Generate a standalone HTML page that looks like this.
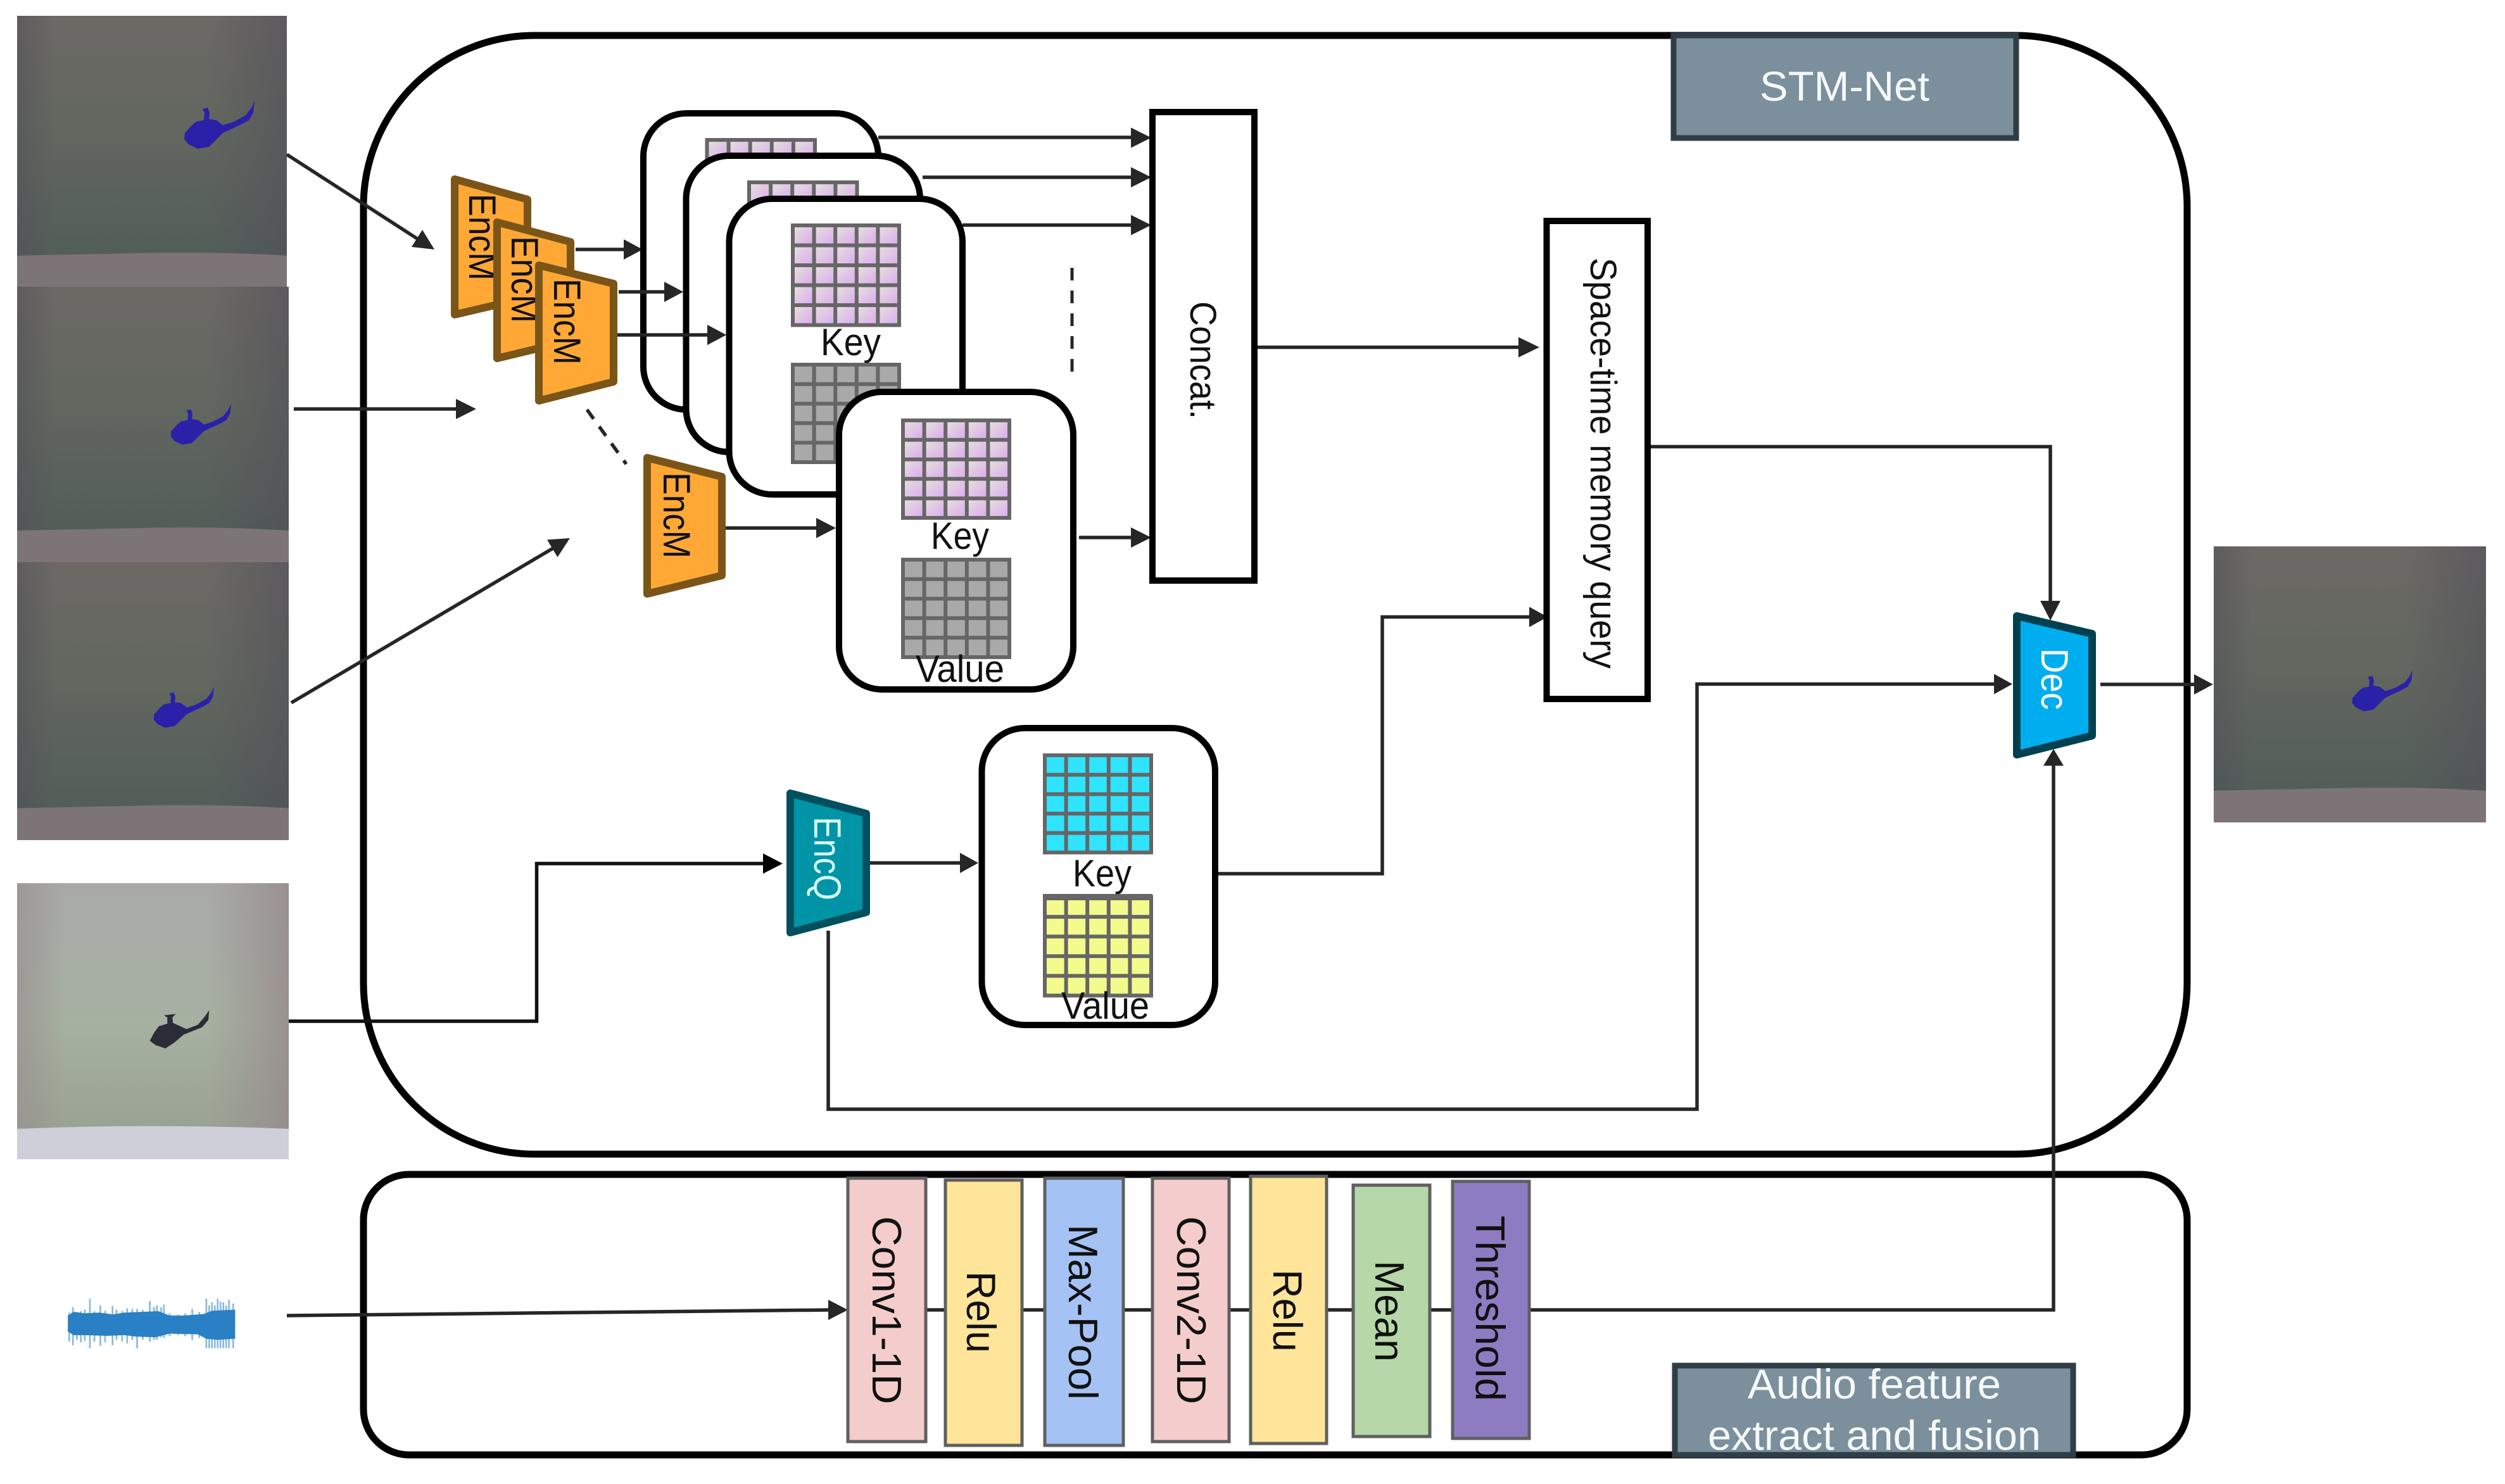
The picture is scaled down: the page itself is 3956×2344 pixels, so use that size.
<!DOCTYPE html>
<html><head><meta charset="utf-8"><title>STM-Net diagram</title>
<style>html,body{margin:0;padding:0;background:#fff}svg{display:block}
text{font-family:"Liberation Sans",sans-serif;fill:#111}</style></head>
<body>
<svg xmlns="http://www.w3.org/2000/svg" width="3956" height="2344" viewBox="0 0 3956 2344">
<defs>
<linearGradient id="dv" x1="0" y1="0" x2="0" y2="1"><stop offset="0" stop-color="#6c6965"/><stop offset=".4" stop-color="#63675f"/><stop offset=".88" stop-color="#535e59"/></linearGradient>
<linearGradient id="dh" x1="0" y1="0" x2="1" y2="0"><stop offset="0" stop-color="#504e58" stop-opacity=".5"/><stop offset=".14" stop-color="#504e58" stop-opacity="0"/><stop offset=".7" stop-color="#504e58" stop-opacity="0"/><stop offset="1" stop-color="#504e58" stop-opacity=".55"/></linearGradient>
<linearGradient id="lv" x1="0" y1="0" x2="0" y2="1"><stop offset="0" stop-color="#a9aaa8"/><stop offset=".5" stop-color="#a6b1a1"/><stop offset=".88" stop-color="#9aa394"/></linearGradient>
<linearGradient id="lh" x1="0" y1="0" x2="1" y2="0"><stop offset="0" stop-color="#988e90" stop-opacity=".65"/><stop offset=".18" stop-color="#988e90" stop-opacity="0"/><stop offset=".7" stop-color="#988e90" stop-opacity="0"/><stop offset="1" stop-color="#968a8a" stop-opacity=".8"/></linearGradient>
<linearGradient id="pg" x1="0" y1="0" x2="1" y2="1"><stop offset="0" stop-color="#e4e4da"/><stop offset="1" stop-color="#dca8f0"/></linearGradient>
<pattern id="pk" width="20" height="20" patternUnits="userSpaceOnUse"><rect width="20" height="20" fill="url(#pg)"/></pattern>
<path id="gl" d="M0 0H100V100H0Z M20 0V100 M40 0V100 M60 0V100 M80 0V100 M0 20H100 M0 40H100 M0 60H100 M0 80H100" fill="none" stroke="#666" stroke-width="6" style="vector-effect:non-scaling-stroke"/>
<g id="tileD"><rect width="100" height="100" fill="url(#dv)"/><rect width="100" height="100" fill="url(#dh)"/><path d="M0 88.500Q25 88 50 87.500T100 88.500V100H0Z" fill="#7c7476"/></g>
<g id="tileL"><rect width="100" height="100" fill="url(#lv)"/><rect width="100" height="100" fill="url(#lh)"/><path d="M0 89Q25 88 50 88T100 89V100H0Z" fill="#cfcfd9"/></g>
<polygon id="heli" fill="#2b20a8" points="402,160 400,178 393,190 380,197 352,210 340,222 330,232 312,235 298,228 291,220 292,210 303,198 310,192 322,190 323,178 320,172 328,170 331,178 330,188 342,190 352,198 370,192 388,182 397,170"/>
</defs>
<rect width="3956" height="2344" fill="#fff"/>

<!-- images -->
<g transform="translate(27,25) scale(4.26,4.28)"><use href="#tileD"/></g>
<use href="#heli"/>
<g transform="translate(27,453) scale(4.29,4.35)"><use href="#tileD"/></g>
<use href="#heli" transform="translate(19.300,500.400) scale(.86)"/>
<g transform="translate(27,888) scale(4.29,4.39)"><use href="#tileD"/></g>
<use href="#heli" transform="translate(-7.700,947.400) scale(.86)"/>
<g transform="translate(27,1395) scale(4.29,4.36)"><use href="#tileL"/></g>
<polygon transform="translate(0,1350) scale(.4464,.574)" fill="#2a2d38" points="740,428 737,455 715,475 650,495 615,518 585,533 550,524 530,512 545,490 562,472 592,465 592,448 580,442 622,438 610,448 612,463 632,470 660,480 700,468 725,445"/>
<g transform="translate(3496,863) scale(4.3,4.36)"><use href="#tileD"/></g>
<use href="#heli" transform="translate(3464.300,921.400) scale(.86)"/>

<!-- waveform -->
<g transform="translate(0,1350) scale(.4464,.574)">
<g stroke="#2a80c4" stroke-opacity=".55" stroke-width="6" fill="none">
<path d="M245 1260V1340M258 1245V1350M272 1258V1335M286 1256V1342M300 1252V1338M318 1222V1358M334 1256V1340M355 1240V1352M372 1255V1342M398 1242V1350M412 1252V1335M432 1255V1340M450 1248V1345M468 1250V1335M485 1250V1358M505 1252V1335M530 1228V1340M545 1245V1335M555 1240V1335M570 1245V1328M580 1238V1330M600 1262V1325M630 1265V1322M655 1262V1325M680 1250V1335M705 1258V1330M730 1222V1358M740 1240V1358M750 1232V1358M760 1240V1358M770 1222V1358M780 1230V1358M790 1232V1358M800 1240V1358M810 1225V1358M825 1235V1358"/>
</g>
<path fill="#2a80c4" d="M240 1268L260 1258 300 1262 350 1260 400 1265 440 1260 500 1258 560 1256 600 1268 650 1268 720 1264 750 1255 832 1252V1332L770 1335 730 1332 700 1320 600 1318 550 1328 480 1326 440 1322 380 1324 300 1322 260 1322 240 1312Z"/>
</g>

<!-- containers -->
<rect x="574" y="56" width="2880" height="1767" rx="270" ry="270" fill="none" stroke="#000" stroke-width="11"/>
<rect x="574" y="1855" width="2880" height="443" rx="72" ry="72" fill="none" stroke="#000" stroke-width="11"/>

<rect x="2643" y="56" width="541" height="162" fill="#7b909c" stroke="#2f3e46" stroke-width="9"/>
<text x="2779" y="159" font-size="66" textLength="268" lengthAdjust="spacingAndGlyphs" style="fill:#f6f8f8">STM-Net</text>
<rect x="2645" y="2157" width="629" height="141" fill="#7b909c" stroke="#2f3e46" stroke-width="9"/>
<text x="2760" y="2209" font-size="66" textLength="400" lengthAdjust="spacingAndGlyphs" style="fill:#f6f8f8">Audio feature</text>
<text x="2697" y="2290" font-size="66" textLength="526" lengthAdjust="spacingAndGlyphs" style="fill:#f6f8f8">extract and fusion</text>

<!-- connectors -->
<g fill="none" stroke="#262626" stroke-width="5.500">
<path d="M453 244L662 379"/>
<path d="M464 646H725"/>
<path d="M460 1110L875 865"/>
<path stroke="#111" d="M456 1613H847.500V1364H1210"/>
<path d="M453 2078L1312 2069"/>
<path d="M1339 2069H3243V1205"/>
<path d="M909 394H990M1145 834H1295"/>
<path d="M1387 217H1790M1457 280H1790M1520 355.500H1790M1704 849H1790"/>
<path d="M1981 548.500H2402"/>
<path d="M2602 705.500H3238V953"/>
<path d="M1919 1380H2183V974.500H2420"/>
<path d="M1308 1470V1752H2680V1080.500H3154"/>
<path d="M1371 1363H1520"/>
<path d="M3317 1081H3470"/>
<path d="M927 647L989 733" stroke-dasharray="18 15"/>
<path d="M1693 423V602" stroke-dasharray="20 16" stroke-width="5"/>
</g>
<g fill="#262626">
<polygon points="686,394 650,390 667,363"/>
<polygon points="752,646 720,630 720,662"/>
<polygon points="900,850 864,852.500 880.500,880"/>
<polygon fill="#000" points="1236,1364 1205,1348 1205,1380"/>
<polygon points="1339,2069 1308,2053 1308,2085"/>
<polygon points="1015,394 985,378 985,410"/>
<polygon points="1320,834 1289,818 1289,850"/>
<polygon points="1818,217.500 1786,201.500 1786,233.500"/>
<polygon points="1818,280 1786,264 1786,296"/>
<polygon points="1818,355.500 1786,339.500 1786,371.500"/>
<polygon points="1818,849 1786,833 1786,865"/>
<polygon points="2431,548.500 2398,532.500 2398,564.500"/>
<polygon points="2444,974.500 2415,958.500 2415,990.500"/>
<polygon points="1545,1363 1516,1347 1516,1379"/>
<polygon points="3178,1080.500 3149,1064.500 3149,1096.500"/>
<polygon points="3495,1081 3465,1065 3465,1097"/>
<polygon points="3238,980 3222,949 3254,949"/>
<polygon points="3243,1183 3227,1209.500 3259,1209.500"/>
</g>

<!-- memory stack -->
<rect x="1016" y="179" width="371" height="468" rx="68" fill="#fff" stroke="#000" stroke-width="10"/>
<g transform="translate(1116.500,221) scale(1.705,1.6)"><rect width="100" height="100" fill="url(#pk)"/><use href="#gl"/></g>
<rect x="1083.500" y="246" width="369.500" height="468" rx="68" fill="#fff" stroke="#000" stroke-width="10"/>
<g transform="translate(1183,288) scale(1.705,1.6)"><rect width="100" height="100" fill="url(#pk)"/><use href="#gl"/></g>
<rect x="1151.500" y="314" width="368.500" height="467" rx="68" fill="#fff" stroke="#000" stroke-width="10"/>
<g transform="translate(1252,356) scale(1.68,1.575)"><rect width="100" height="100" fill="url(#pk)"/><use href="#gl"/></g>
<text x="1296" y="561" font-size="60" textLength="95" lengthAdjust="spacingAndGlyphs">Key</text>
<g transform="translate(1252,576) scale(1.68,1.54)"><rect width="100" height="100" fill="#a9a9a9"/><use href="#gl"/></g>
<rect x="1325" y="619" width="370" height="470" rx="68" fill="#fff" stroke="#000" stroke-width="10"/>
<g transform="translate(1426,664) scale(1.68,1.54)"><rect width="100" height="100" fill="url(#pk)"/><use href="#gl"/></g>
<text x="1470" y="867" font-size="60" textLength="92" lengthAdjust="spacingAndGlyphs">Key</text>
<g transform="translate(1426,884) scale(1.68,1.54)"><rect width="100" height="100" fill="#a9a9a9"/><use href="#gl"/></g>
<text x="1446" y="1077" font-size="60" textLength="140" lengthAdjust="spacingAndGlyphs">Value</text>

<!-- arrows over stack -->
<g fill="none" stroke="#262626" stroke-width="5.500"><path d="M977 461H1055M973 529H1122"/></g>
<g fill="#262626">
<polygon points="1079,461 1049,445 1049,477"/>
<polygon points="1147,529 1117,513 1117,545"/>
</g>

<!-- EncM -->
<polygon fill="#ffa836" stroke="#7b5518" stroke-width="12" stroke-linejoin="round" points="718,283 833,315 833,470 718,497"/>
<text transform="translate(741,306) rotate(90)" font-size="60" textLength="137" lengthAdjust="spacingAndGlyphs">EncM</text>
<polygon fill="#ffa836" stroke="#7b5518" stroke-width="12" stroke-linejoin="round" points="785,351 901,382 901,538 785,566"/>
<text transform="translate(808,373) rotate(90)" font-size="60" textLength="137" lengthAdjust="spacingAndGlyphs">EncM</text>
<polygon fill="#ffa836" stroke="#7b5518" stroke-width="12" stroke-linejoin="round" points="851,419 969,448 969,603 851,633"/>
<text transform="translate(875,440) rotate(90)" font-size="60" textLength="136" lengthAdjust="spacingAndGlyphs">EncM</text>
<polygon fill="#ffa836" stroke="#7b5518" stroke-width="12" stroke-linejoin="round" points="1022,723 1140,753 1140,909 1022,938"/>
<text transform="translate(1048,746) rotate(90)" font-size="60" textLength="136" lengthAdjust="spacingAndGlyphs">EncM</text>

<!-- EncQ branch -->
<polygon fill="#0094a6" stroke="#02505f" stroke-width="12" stroke-linejoin="round" points="1248,1253 1368,1285 1368,1441 1248,1473"/>
<text transform="translate(1286,1290) rotate(90)" font-size="60" textLength="132" lengthAdjust="spacingAndGlyphs" style="fill:#d9fbff">EncQ</text>
<rect x="1550.500" y="1150" width="368.500" height="469" rx="68" fill="#fff" stroke="#000" stroke-width="10"/>
<g transform="translate(1650,1193) scale(1.68,1.535)"><rect width="100" height="100" fill="#2fe4ff"/><use href="#gl"/></g>
<text x="1694" y="1400" font-size="60" textLength="93" lengthAdjust="spacingAndGlyphs">Key</text>
<g transform="translate(1650,1417) scale(1.68,1.555)"><rect width="100" height="100" fill="#f3fb8c"/><use href="#gl"/></g>
<rect x="1647" y="1412" width="173" height="10" fill="#666"/>
<text x="1676" y="1609" font-size="60" textLength="139" lengthAdjust="spacingAndGlyphs">Value</text>

<!-- Concat / Query -->
<rect x="1820" y="177" width="161" height="740" fill="#fff" stroke="#000" stroke-width="10"/>
<text transform="translate(1880,476) rotate(90)" font-size="58" textLength="186" lengthAdjust="spacingAndGlyphs">Concat.</text>
<rect x="2442.500" y="349" width="159.500" height="755" fill="#fff" stroke="#000" stroke-width="10"/>
<text transform="translate(2512,407) rotate(90)" font-size="58" textLength="649" lengthAdjust="spacingAndGlyphs">Space-time memory query</text>

<!-- Dec -->
<polygon fill="#00aeef" stroke="#01404f" stroke-width="12" stroke-linejoin="round" points="3185,973 3304,1001 3304,1162 3185,1192"/>
<text transform="translate(3224,1024) rotate(90)" font-size="60" textLength="97" lengthAdjust="spacingAndGlyphs" style="fill:#fff">Dec</text>

<!-- audio bars -->
<g stroke="#5f5f5f" stroke-width="5">
<rect x="1339" y="1861" width="123" height="416" fill="#f4cccc"/>
<rect x="1493" y="1864" width="121" height="419" fill="#ffe599"/>
<rect x="1650" y="1861" width="124" height="422" fill="#a4c2f4"/>
<rect x="1820" y="1861" width="121" height="416" fill="#f4cccc"/>
<rect x="1975" y="1858" width="120" height="422" fill="#ffe599"/>
<rect x="2137" y="1872" width="121" height="397" fill="#b6d7a8"/>
<rect x="2294" y="1866" width="121" height="406" fill="#8e7cc3"/>
</g>
<g font-size="65">
<text transform="translate(1378,1921) rotate(90)" textLength="297" lengthAdjust="spacingAndGlyphs">Conv1-1D</text>
<text transform="translate(1527,2008) rotate(90)" textLength="129" lengthAdjust="spacingAndGlyphs">Relu</text>
<text transform="translate(1688,1934) rotate(90)" textLength="277" lengthAdjust="spacingAndGlyphs">Max-Pool</text>
<text transform="translate(1859,1921) rotate(90)" textLength="297" lengthAdjust="spacingAndGlyphs">Conv2-1D</text>
<text transform="translate(2011,2005) rotate(90)" textLength="130" lengthAdjust="spacingAndGlyphs">Relu</text>
<text transform="translate(2172,1991) rotate(90)" textLength="160" lengthAdjust="spacingAndGlyphs">Mean</text>
<text transform="translate(2331,1920) rotate(90)" textLength="293" lengthAdjust="spacingAndGlyphs">Threshold</text>
</g>
</svg>
</body></html>
